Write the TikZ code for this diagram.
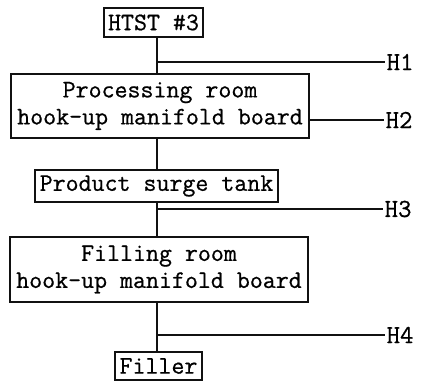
\documentclass[tikz,border=0pt]{standalone}
\usepackage{fontspec}
\usetikzlibrary{calc}
\newfontfamily\plantfont{Latin Modern Mono}[FakeBold=0.7]
\definecolor{inkstroke}{HTML}{111111}
\tikzset{
  unitbox/.style={
    rectangle, draw=inkstroke, line width=1.5pt, align=center,
    inner sep=1pt, font=\plantfont\fontsize{25.2}{27}\selectfont
  },
  pipe/.style={draw=inkstroke, line width=1.3pt},
  tag/.style={
    anchor=west, inner sep=1.5pt, font=\plantfont\fontsize{26}{27}\selectfont
  }
}
\begin{document}
\begin{tikzpicture}[x=1pt,y=-1pt]
  \useasboundingbox (0,0) rectangle (421,382);
  \node[unitbox, minimum width=99pt, minimum height=29pt] (htst) at (153.5,22.5) {HTST \#3};
  \node[unitbox, minimum width=298pt, minimum height=64pt] (proc) at (160,106) {Processing room\\hook-up manifold board};
  \node[unitbox, minimum width=243pt, minimum height=32pt] (surge) at (156.5,186) {Product surge tank};
  \node[unitbox, minimum width=298pt, minimum height=65pt] (fill) at (159,269.5) {Filling room\\hook-up manifold board};
  \node[unitbox, minimum width=87pt, minimum height=28pt] (filler) at (158.5,366) {Filler};

  \node[tag] (h1) at (385,62) {H1};
  \node[tag] (h2) at (384,120) {H2};
  \node[tag] (h3) at (383,209) {H3};
  \node[tag] (h4) at (385,335) {H4};

  % main product line
  \coordinate (j1) at (157,62);
  \coordinate (j3) at (157,209);
  \coordinate (j4) at (157,335);
  \draw[pipe] (htst.south -| j1) -- (proc.north -| j1);
  \draw[pipe] (proc.south -| j1) -- (surge.north -| j1);
  \draw[pipe] (surge.south -| j3) -- (fill.north -| j3);
  \draw[pipe] (fill.south -| j4) -- (filler.north -| j4);

  % hook-up points
  \draw[pipe] (j1) -- (h1.west);
  \draw[pipe] (h2.west -| proc.east) -- (h2.west);
  \draw[pipe] (j3) -- (h3.west);
  \draw[pipe] (j4) -- (h4.west);
\end{tikzpicture}
\end{document}
